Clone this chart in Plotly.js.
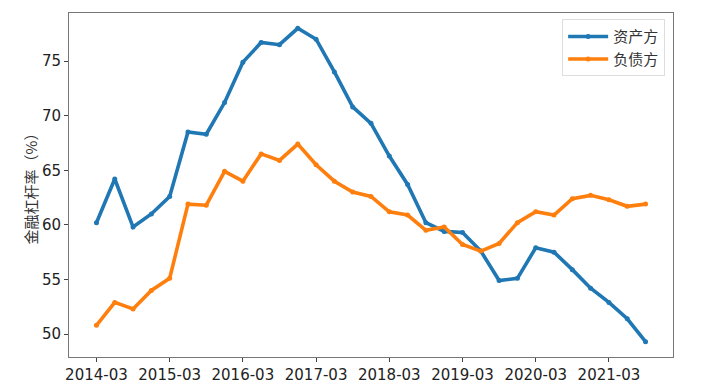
<!DOCTYPE html>
<html><head><meta charset="utf-8">
<script src="https://cdn.plot.ly/plotly-3.0.1.min.js"></script>
<style>html,body{margin:0;padding:0;background:#fff;}#chart{width:716px;height:385px;}</style>
</head><body><div id="chart"></div>
<script>
const quarters = ["2014-03","2014-06","2014-09","2014-12","2015-03","2015-06","2015-09","2015-12",
  "2016-03","2016-06","2016-09","2016-12","2017-03","2017-06","2017-09","2017-12",
  "2018-03","2018-06","2018-09","2018-12","2019-03","2019-06","2019-09","2019-12",
  "2020-03","2020-06","2020-09","2020-12","2021-03","2021-06","2021-09"];
const assetSide = [60.2,64.2,59.8,61.0,62.6,68.5,68.3,71.2,74.9,76.7,76.5,78.0,77.0,74.0,70.8,69.3,
  66.3,63.7,60.2,59.4,59.3,57.6,54.9,55.1,57.9,57.5,55.9,54.2,52.9,51.4,49.3];
const liabilitySide = [50.8,52.9,52.3,54.0,55.1,61.9,61.8,64.9,64.0,66.5,65.9,67.4,65.5,64.0,63.0,62.6,
  61.2,60.9,59.5,59.8,58.2,57.6,58.3,60.2,61.2,60.9,62.4,62.7,62.3,61.7,61.9];
const tickLabels = ["2014-03","2015-03","2016-03","2017-03","2018-03","2019-03","2020-03","2021-03"];
const seriesNames = ["资产方","负债方"];
const yTicks = [50,55,60,65,70,75];

const idx = quarters.map((q,i)=>i);
const tickIdx = tickLabels.map(t=>quarters.indexOf(t));

const traces = [
  {x: idx, y: assetSide, name: seriesNames[0], type:'scatter', mode:'lines+markers',
   line:{color:'#1f77b4', width:3.6}, marker:{color:'#1f77b4', size:5}},
  {x: idx, y: liabilitySide, name: seriesNames[1], type:'scatter', mode:'lines+markers',
   line:{color:'#ff7f0e', width:3.6}, marker:{color:'#ff7f0e', size:5}}
];
const axisFont = {family:'DejaVu Sans', size:15, color:'#222'};
const layout = {
  width:716, height:385,
  margin:{l:69, r:43, t:13, b:28},
  paper_bgcolor:'#fff', plot_bgcolor:'#fff',
  showlegend:true,
  legend:{x:0.987, y:0.982, xanchor:'right', yanchor:'top', bgcolor:'rgba(255,255,255,0.9)',
    bordercolor:'#ddd', borderwidth:1, itemwidth:40, tracegroupgap:2,
    font:{family:'Noto Sans CJK SC', size:15, color:'#333'}},
  xaxis:{range:[-1.5,31.5], tickmode:'array', tickvals:tickIdx, ticktext:tickLabels,
    showgrid:false, zeroline:false, showline:true, mirror:true, linecolor:'#777', linewidth:1,
    ticks:'outside', ticklen:4, tickcolor:'#444', tickfont:axisFont},
  yaxis:{range:[47.9,79.4], tickmode:'array', tickvals:yTicks,
    showgrid:false, zeroline:false, showline:true, mirror:true, linecolor:'#777', linewidth:1,
    ticks:'outside', ticklen:4, tickcolor:'#444', tickfont:axisFont,
    title:{text:'金融杠杆率（%）', font:{family:'Noto Sans CJK SC', size:15, color:'#333'}, standoff:0}}
};
Plotly.newPlot('chart', traces, layout, {displayModeBar:false, staticPlot:true});
</script></body></html>
